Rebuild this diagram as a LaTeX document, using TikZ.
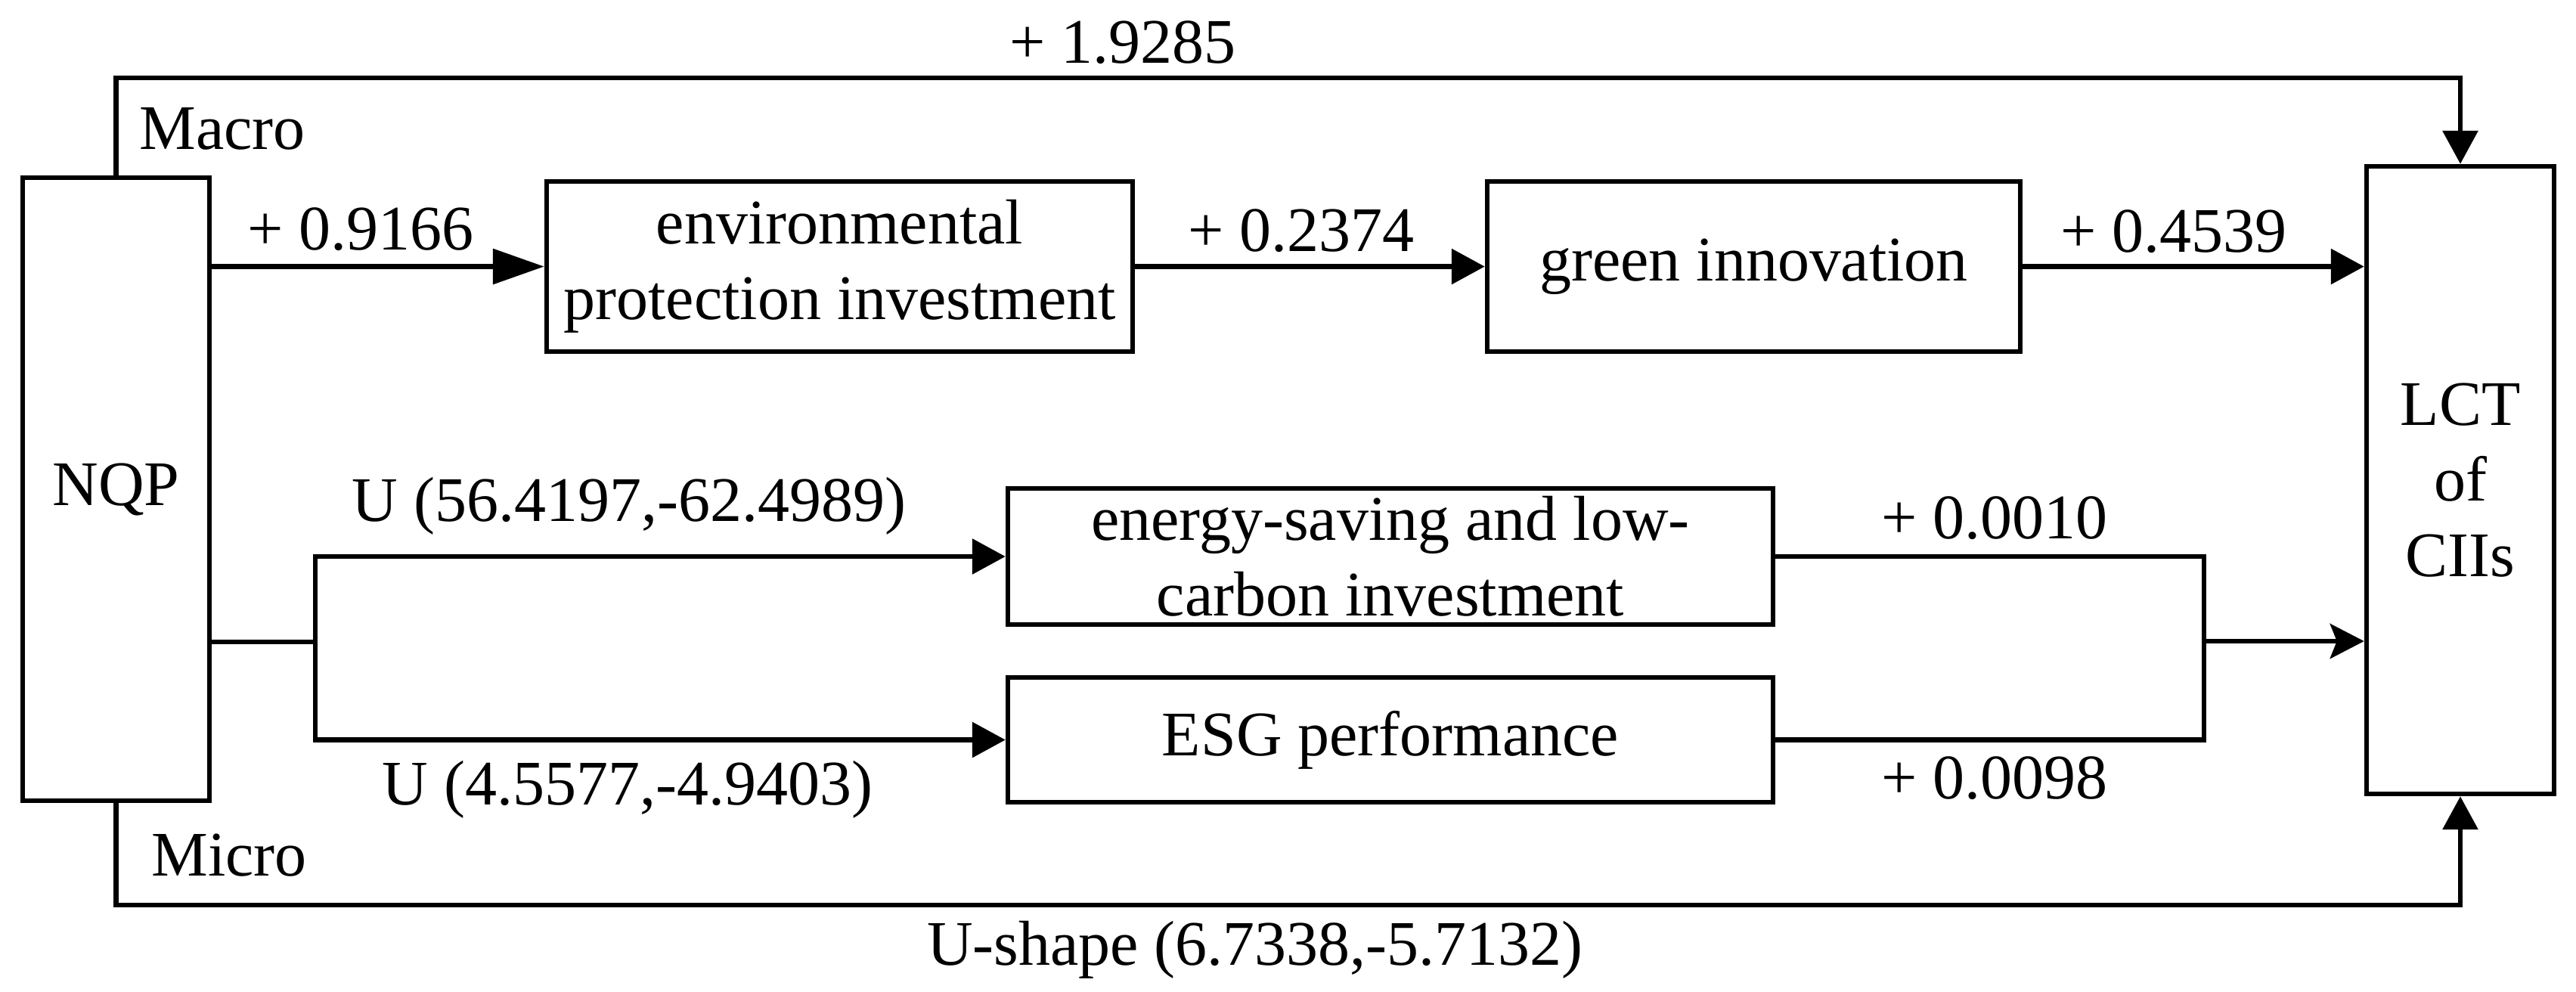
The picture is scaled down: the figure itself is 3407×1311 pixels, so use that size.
\documentclass[tikz,border=0pt]{standalone}
\usepackage{fontspec}
\setmainfont{Liberation Serif}
\usetikzlibrary{arrows.meta}
\begin{document}
\begin{tikzpicture}[x=0.1pt,y=-0.1pt,
  every node/.style={font=\fontsize{8.4}{10}\selectfont},
  box/.style={draw, line width=0.65pt, inner sep=0pt, align=center},
  lbl/.style={anchor=base, inner sep=0pt},
  conn/.style={line width=0.65pt},
  arr/.style={conn, -{Triangle[length=4.4pt,width=4.6pt]}},
  longarr/.style={conn, -{Triangle[length=6.8pt,width=4.6pt]}},
  merarr/.style={conn, -{Stealth[length=4.5pt,width=4.6pt,inset=0.9pt]}}]
\useasboundingbox (0,0) rectangle (3407,1311);

% boxes
\node[box, minimum width=24.7pt, minimum height=82.4pt] (nqp) at (153.5,647) {NQP};
\node[box, minimum width=77.5pt, minimum height=22.5pt] (env) at (1110.5,352.5) {environmental\\protection investment};
\node[box, minimum width=70.5pt, minimum height=22.5pt] (green) at (2319.5,352.5) {green innovation};
\node[box, minimum width=101.2pt, minimum height=18pt] (es) at (1839,736) {energy-saving and low-\\carbon investment};
\node[box, minimum width=101.2pt, minimum height=16.5pt] (esg) at (1839,978.5) {ESG performance};
\node[box, minimum width=24.8pt, minimum height=83pt] (cii) at (3254,635) {LCT\\of\\CIIs};

% helper coordinates
\coordinate (topy) at (0,103);
\coordinate (boty) at (0,1197);
\coordinate (split) at (417,849);
\coordinate (merge) at (2915,848);

% connectors
\draw[arr] (nqp.north) |- (topy -| cii.north) -- (cii.north);
\draw[arr] (nqp.south) |- (boty -| cii.south) -- (cii.south);
\draw[longarr] (nqp.east |- env.west) -- (env.west);
\draw[arr] (env.east) -- (green.west);
\draw[arr] (green.east) -- (green.east -| cii.west);
\draw[conn] (nqp.east |- split) -- (split);
\draw[arr] (split) |- (es.west);
\draw[arr] (split) |- (esg.west);
\draw[conn] (es.east) -| (merge);
\draw[conn] (esg.east) -| (merge);
\draw[merarr] (merge) -- (merge -| cii.west);

% labels
\node[lbl] (l1) at (1485,83) {+ 1.9285};
\node[lbl] (lmacro) at (294,197) {Macro};
\node[lbl] (l2) at (477,330) {+ 0.9166};
\node[lbl] (l3) at (1721,332) {+ 0.2374};
\node[lbl] (l4) at (2875,333) {+ 0.4539};
\node[lbl] (l5) at (832,689) {U (56.4197,-62.4989)};
\node[lbl] (l6) at (830,1064) {U (4.5577,-4.9403)};
\node[lbl] (l7) at (2638,712) {+ 0.0010};
\node[lbl] (l8) at (2638,1056) {+ 0.0098};
\node[lbl] (lmicro) at (303,1158) {Micro};
\node[lbl] (l9) at (1660,1276) {U-shape (6.7338,-5.7132)};
\end{tikzpicture}
\end{document}
